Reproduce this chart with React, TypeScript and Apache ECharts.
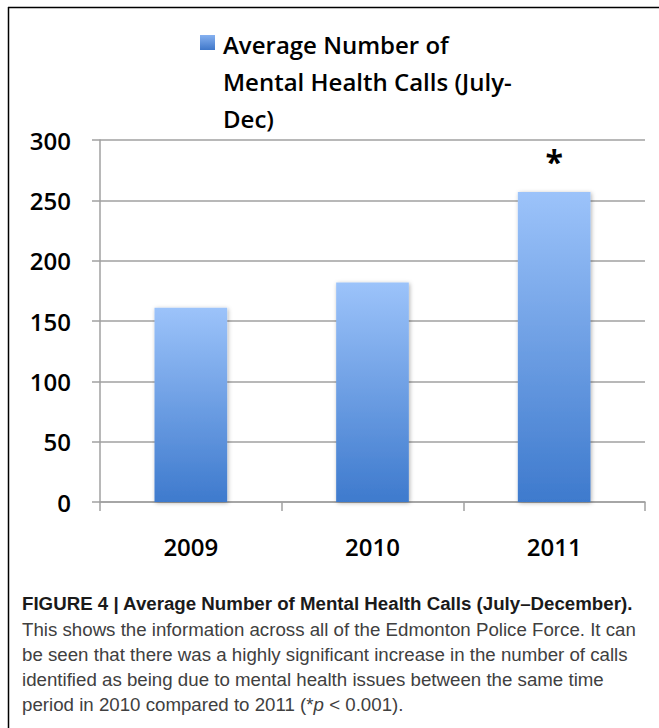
import React, { useEffect, useRef } from "react";
import * as echarts from "echarts";

const categories = ["2009", "2010", "2011"];
const values = [161, 182, 257];
const significance = ["", "", "*"];
const yTicks = { min: 0, max: 300, interval: 50 };
const legendLines = ["Average Number of", "Mental Health Calls (July-", "Dec)"];
const captionTitle = "FIGURE 4 | Average Number of Mental Health Calls (July\u2013December).";
const captionLines = [
  "This shows the information across all of the Edmonton Police Force. It can",
  "be seen that there was a highly significant increase in the number of calls",
  "identified as being due to mental health issues between the same time",
];
const captionLast = ["period in 2010 compared to 2011 (*", "p", " < 0.001)."];

const chartFont = "'Open Sans', 'DejaVu Sans', sans-serif";
const capFont = "'Liberation Sans', Arial, sans-serif";
const capSize = 18.7;

export default function App() {
  const ref = useRef<HTMLDivElement>(null);
  useEffect(() => {
    document.body.style.margin = "0";
    if (!ref.current) return;
    const chart = echarts.init(ref.current, null, { renderer: "svg" });
    const barGradient = new echarts.graphic.LinearGradient(0, 0, 0, 1, [
      { offset: 0, color: "#9cc3fa" },
      { offset: 1, color: "#3e7acd" },
    ]);
    const legendGradient = new echarts.graphic.LinearGradient(0, 0, 0, 1, [
      { offset: 0, color: "#86b1f0" },
      { offset: 1, color: "#3f77c9" },
    ]);
    const graphics: any[] = [
      { type: "line", shape: { x1: 8, y1: 7.5, x2: 659, y2: 7.5 }, style: { stroke: "#000", lineWidth: 1.5 } },
      { type: "line", shape: { x1: 8.5, y1: 7, x2: 8.5, y2: 728 }, style: { stroke: "#000", lineWidth: 1.5 } },
      { type: "rect", shape: { x: 200, y: 35, width: 15, height: 15 }, style: { fill: legendGradient } },
    ];
    legendLines.forEach((t, i) => {
      graphics.push({
        type: "text",
        x: 223,
        y: 44 + i * 37,
        style: {
          text: t,
          fontFamily: chartFont,
          fontSize: 24,
          fontWeight: 600,
          fill: "#000",
          verticalAlign: "middle",
        },
      });
    });
    graphics.push({
      type: "text",
      x: 22,
      y: 603,
      style: {
        text: captionTitle,
        fontFamily: capFont,
        fontSize: capSize,
        fontWeight: "bold",
        fill: "#1a1a1a",
        verticalAlign: "middle",
      },
    });
    captionLines.forEach((t, i) => {
      graphics.push({
        type: "text",
        x: 22,
        y: 629 + i * 25,
        style: {
          text: t,
          fontFamily: capFont,
          fontSize: capSize,
          fill: "#404040",
          verticalAlign: "middle",
        },
      });
    });
    graphics.push({
      type: "text",
      x: 22,
      y: 704,
      style: {
        text: `{n|${captionLast[0]}}{i|${captionLast[1]}}{n|${captionLast[2]}}`,
        verticalAlign: "middle",
        rich: {
          n: { fontFamily: capFont, fontSize: capSize, fill: "#404040" },
          i: { fontFamily: capFont, fontSize: capSize, fontStyle: "italic", fill: "#404040" },
        },
      },
    });

    chart.setOption({
      animation: false,
      backgroundColor: "#fff",
      grid: { left: 100, right: 14, top: 140, bottom: 226, containLabel: false },
      xAxis: {
        type: "category",
        data: categories,
        boundaryGap: true,
        axisLine: { show: true, lineStyle: { color: "#a0a0a0", width: 1.5 } },
        axisTick: { show: true, length: 9, lineStyle: { color: "#a0a0a0", width: 1.5 } },
        axisLabel: { color: "#000", fontFamily: chartFont, fontSize: 24, fontWeight: 600, margin: 32 },
      },
      yAxis: {
        type: "value",
        min: yTicks.min,
        max: yTicks.max,
        interval: yTicks.interval,
        axisLine: { show: true, lineStyle: { color: "#a0a0a0", width: 1.5 } },
        axisTick: { show: true, length: 8, lineStyle: { color: "#a0a0a0", width: 1.5 } },
        splitLine: { show: true, lineStyle: { color: "#a0a0a0", width: 1.5 } },
        axisLabel: { color: "#000", fontFamily: chartFont, fontSize: 24, fontWeight: 600, margin: 29 },
      },
      series: [
        {
          type: "bar",
          name: legendLines.join(" "),
          data: values,
          barWidth: "40%",
          itemStyle: {
            color: barGradient,
            shadowBlur: 4,
            shadowColor: "rgba(0,0,0,0.3)",
            shadowOffsetX: 1,
            shadowOffsetY: 1,
          },
          label: {
            show: true,
            position: "top",
            distance: 14,
            formatter: (p: any) => significance[p.dataIndex],
            fontFamily: chartFont,
            fontSize: 32,
            fontWeight: "bold",
            color: "#000",
          },
        },
      ],
      graphic: graphics,
    });
    return () => chart.dispose();
  }, []);
  return <div ref={ref} style={{ width: 659, height: 728 }} />;
}
